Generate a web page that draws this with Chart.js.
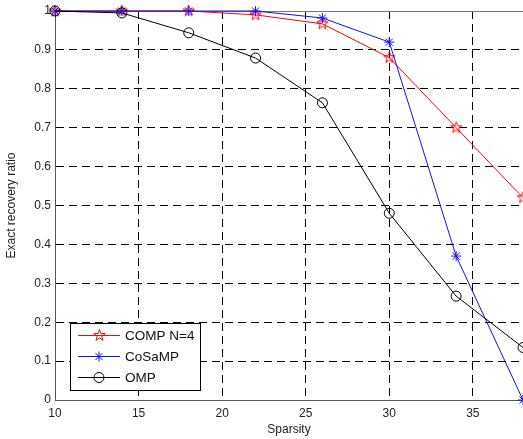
<!DOCTYPE html>
<html>
<head>
<meta charset="utf-8">
<script src="https://cdn.jsdelivr.net/npm/chart.js@4"></script>
<style>body{margin:0;background:#fff}</style>
</head>
<body>
<canvas id="mycanvas" width="523" height="439"></canvas>
<script>
var sparsity = [10, 14, 18, 22, 26, 30, 34, 38];
var compN4 = [1, 1, 1, 0.99, 0.967, 0.88, 0.70, 0.52];
var cosamp = [1, 1, 1, 1, 0.982, 0.92, 0.37, 0];
var omp = [1, 0.995, 0.944, 0.879, 0.764, 0.48, 0.267, 0.135];
var xTicks = [10, 15, 20, 25, 30, 35];
var seriesNames = ['COMP N=4', 'CoSaMP', 'OMP'];

// outlined pentagram like matlab 'p' marker
function pentagram(color, r) {
	var c = document.createElement('canvas');
	var s = Math.ceil(r * 2 + 3);
	c.width = s; c.height = s;
	var g = c.getContext('2d');
	g.strokeStyle = color;
	g.lineWidth = 1;
	g.beginPath();
	for (var i = 0; i < 10; i++) {
		var a = -Math.PI / 2 + i * Math.PI / 5;
		var rr = i % 2 === 0 ? r : r * 0.4;
		var x = s / 2 + rr * Math.cos(a), y = s / 2 + rr * Math.sin(a);
		if (i === 0) g.moveTo(x, y); else g.lineTo(x, y);
	}
	g.closePath();
	g.stroke();
	return c;
}

var redStar = pentagram('#ff0000', 6);

function pts(ys) {
	return sparsity.map(function (x, i) { return {x: x, y: ys[i]}; });
}

function drawMarker(ctx, ds, x, y) {
	ctx.save();
	ctx.strokeStyle = ds.borderColor;
	ctx.lineWidth = 1;
	if (ds.pointStyle === 'circle') {
		ctx.beginPath();
		ctx.arc(x, y, ds.pointRadius, 0, Math.PI * 2);
		ctx.stroke();
	} else if (ds.pointStyle === 'star') {
		var r = ds.pointRadius;
		ctx.beginPath();
		ctx.moveTo(x - r, y); ctx.lineTo(x + r, y);
		ctx.moveTo(x, y - r); ctx.lineTo(x, y + r);
		var d = r * 0.707;
		ctx.moveTo(x - d, y - d); ctx.lineTo(x + d, y + d);
		ctx.moveTo(x - d, y + d); ctx.lineTo(x + d, y - d);
		ctx.stroke();
	} else {
		var img = ds.pointStyle;
		ctx.drawImage(img, Math.round(x - img.width / 2), Math.round(y - img.height / 2));
	}
	ctx.restore();
}

var frame = {
	id: 'frame',
	beforeDatasetsDraw: function (chart) {
		var ctx = chart.ctx, a = chart.chartArea;
		ctx.save();
		ctx.strokeStyle = '#777';
		ctx.lineWidth = 1;
		ctx.beginPath();
		ctx.moveTo(a.left, a.top + 0.5);
		ctx.lineTo(a.right, a.top + 0.5);
		ctx.stroke();
		ctx.restore();
	},
	afterDraw: function (chart) {
		var ctx = chart.ctx;
		var x0 = 70, y0 = 323, w = 130, h = 67;
		ctx.save();
		ctx.fillStyle = '#fff';
		ctx.fillRect(x0, y0, w, h);
		ctx.strokeStyle = '#000';
		ctx.lineWidth = 1;
		ctx.strokeRect(x0 + 0.5, y0 + 0.5, w, h);
		ctx.font = '13.5px "Liberation Sans", Arial, sans-serif';
		ctx.textBaseline = 'middle';
		ctx.fillStyle = '#111';
		chart.data.datasets.forEach(function (ds, i) {
			var y = y0 + 12 + i * 21;
			ctx.strokeStyle = ds.borderColor;
			ctx.beginPath();
			ctx.moveTo(78, y + 0.5);
			ctx.lineTo(120, y + 0.5);
			ctx.stroke();
			drawMarker(ctx, ds, 99, y + 0.5);
			ctx.fillText(ds.label, 125, y + 1);
		});
		ctx.restore();
	}
};

var ctx = document.getElementById('mycanvas');

var lineChart = new Chart(ctx, {
	type: 'line',
	data: {
		datasets: [
			{
				label: seriesNames[0],
				data: pts(compN4),
				borderColor: '#ff0000',
				borderWidth: 1,
				pointStyle: redStar,
				pointRadius: 6,
				fill: false,
				clip: false,
				order: 3
			},
			{
				label: seriesNames[1],
				data: pts(cosamp),
				borderColor: '#1010ee',
				borderWidth: 1,
				pointStyle: 'star',
				pointRadius: 5,
				pointBorderWidth: 1,
				pointBackgroundColor: 'rgba(0,0,0,0)',
				fill: false,
				clip: false,
				order: 2
			},
			{
				label: seriesNames[2],
				data: pts(omp),
				borderColor: '#000000',
				borderWidth: 1,
				pointStyle: 'circle',
				pointRadius: 5,
				pointBorderWidth: 1,
				pointBackgroundColor: 'rgba(0,0,0,0)',
				fill: false,
				clip: false,
				order: 1
			}
		]
	},
	options: {
		responsive: false,
		animation: false,
		layout: {autoPadding: false, padding: {top: 11, right: 0, left: 0, bottom: 0}},
		plugins: {legend: {display: false}, tooltip: {enabled: false}},
		scales: {
			x: {
				type: 'linear',
				min: 10,
				max: 38,
				afterBuildTicks: function (scale) {
					scale.ticks = xTicks.map(function (v) { return {value: v}; });
				},
				afterFit: function (scale) {
					scale.height = 39;
					scale.paddingLeft = 0;
					scale.paddingRight = 0;
				},
				ticks: {
					padding: 6,
					color: '#222',
					font: {family: '"Liberation Sans", Arial, sans-serif', size: 12},
					maxRotation: 0
				},
				grid: {
					drawTicks: false,
					color: function (c) { return c.tick && c.tick.value === 10 ? 'rgba(0,0,0,0)' : '#000'; }
				},
				border: {color: '#555', dash: [8, 5]},
				title: {
					display: true,
					text: 'Sparsity',
					color: '#222',
					padding: {top: 0, bottom: 2},
					font: {family: '"Liberation Sans", Arial, sans-serif', size: 12}
				}
			},
			y: {
				min: 0,
				max: 1,
				afterFit: function (scale) {
					scale.width = 55;
					scale.paddingTop = 0;
					scale.paddingBottom = 0;
				},
				ticks: {
					stepSize: 0.1,
					padding: 4,
					color: '#222',
					font: {family: '"Liberation Sans", Arial, sans-serif', size: 12},
					callback: function (v) { return String(Math.round(v * 10) / 10); }
				},
				grid: {
					drawTicks: false,
					color: function (c) {
						if (!c.tick) return '#000';
						var v = c.tick.value;
						return (Math.abs(v) < 1e-6 || Math.abs(v - 1) < 1e-6) ? 'rgba(0,0,0,0)' : '#000';
					}
				},
				border: {color: '#555', dash: [8, 5]},
				title: {
					display: true,
					text: 'Exact recovery ratio',
					color: '#222',
					padding: {top: 4, bottom: 0},
					font: {family: '"Liberation Sans", Arial, sans-serif', size: 12}
				}
			}
		}
	},
	plugins: [frame]
});
</script>
</body>
</html>
